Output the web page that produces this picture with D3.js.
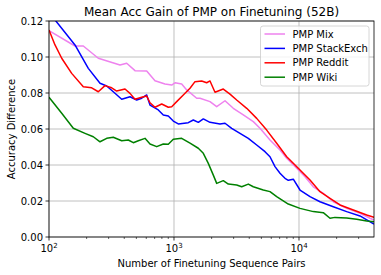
<!DOCTYPE html>
<html><head><meta charset="utf-8">
<script src="https://cdn.jsdelivr.net/npm/d3@7"></script>
<style>body{margin:0;background:#fff}svg{display:block;font-family:"DejaVu Sans",sans-serif}</style>
</head><body><svg id="c" width="381" height="275"></svg>
<script>
const title = "Mean Acc Gain of PMP on Finetuning (52B)";
const xLabel = "Number of Finetuning Sequence Pairs";
const yLabel = "Accuracy Difference";
const seriesNames = ["PMP Mix", "PMP StackExch", "PMP Reddit", "PMP Wiki"];
const seriesColors = ["#ee82ee", "#0000ff", "#ff0000", "#008000"];
const yTicks = [0, 0.02, 0.04, 0.06, 0.08, 0.10, 0.12];
const yTickLabels = ["0.00", "0.02", "0.04", "0.06", "0.08", "0.10", "0.12"];
const xTickExps = [2, 3, 4];

const mixX = [100,161.4,188.1,248,369.8,418.4,487.5,604.7,704.7,847.2,958.6,1019,1152,1264,1519,1614,1941,2196,2559,2981,3584,4309,4875,5861,7047,7972,9585,11169,13014,15646,18810,24075,30761,36983,39811];
const mixY = [0.1146,0.1061,0.1061,0.0993,0.0956,0.0965,0.0924,0.0922,0.0868,0.0850,0.0844,0.0857,0.0850,0.0817,0.0771,0.0771,0.0752,0.0724,0.0757,0.0715,0.0678,0.0641,0.0604,0.0539,0.0483,0.0437,0.0382,0.0335,0.0279,0.0243,0.0196,0.0159,0.0132,0.0104,0.0094];

const seX = [100,111.7,161.4,206.3,255.9,289.4,326.8,381.6,444.6,502.9,551.5,604.7,642.7,748.9,821.1,900.3,987.2,1082,1301,1427,1565,1716,1941,2333,2559,2894,3373,3930,4587,5346,5861,6427,7047,7727,8210,9004,10186,12246,14723,18810,24075,30761,39811];
const seY = [0.125,0.1206,0.1067,0.0937,0.0854,0.0839,0.0807,0.0765,0.0779,0.0761,0.0771,0.0789,0.0733,0.0706,0.0678,0.0672,0.0644,0.0628,0.0635,0.0650,0.0637,0.0656,0.0637,0.0628,0.0632,0.0604,0.0576,0.0548,0.0511,0.0474,0.0446,0.0391,0.0354,0.0326,0.0315,0.0321,0.0261,0.0224,0.0196,0.0168,0.0141,0.0117,0.0072];

const rdX = [100,111.7,126.4,151.9,188.1,219.6,248,280.5,317.3,347.9,405.5,444.6,487.5,551.5,604.7,642.7,704.7,797.3,900.3,958.6,1051,1187,1343,1472,1665,1826,1941,2128,2479,2805,3173,3816,4587,5515,6630,7972,8472,10186,12246,14723,17701,21281,27199,34799,39811];
const rdY = [0.1150,0.1067,0.0993,0.0909,0.0835,0.0829,0.0807,0.0841,0.0829,0.0811,0.0822,0.0798,0.0765,0.0776,0.0783,0.0746,0.0721,0.0739,0.0721,0.0724,0.0752,0.0789,0.0826,0.0863,0.0867,0.0857,0.0867,0.0804,0.0822,0.0794,0.0761,0.0715,0.0659,0.0594,0.0521,0.0446,0.0428,0.0372,0.0317,0.0252,0.0215,0.0178,0.0150,0.0122,0.0109];

const wkX = [100,126.4,156.5,194.1,226.2,255.9,289.4,326.8,381.6,430.9,472.5,518,586.1,642.7,727.1,821.1,900.3,987.2,1152,1343,1565,1716,1881,2063,2196,2479,2720,3173,3480,3930,4309,5180,5861,6630,7271,8210,10186,13014,15646,17701,19409,24075,28941,34799,39811];
const wkY = [0.0776,0.0687,0.0604,0.0576,0.0557,0.0529,0.0548,0.0554,0.0535,0.0539,0.0524,0.0535,0.0548,0.0517,0.0502,0.0517,0.0515,0.0543,0.0548,0.0521,0.0493,0.0465,0.0409,0.0344,0.0298,0.0313,0.0294,0.0289,0.0279,0.0294,0.0279,0.0261,0.0252,0.0224,0.0206,0.0183,0.0159,0.0141,0.0135,0.0104,0.0109,0.0106,0.0098,0.0089,0.0085];

const seriesX = [mixX, seX, rdX, wkX];
const seriesY = [mixY, seY, rdY, wkY];

const L = 49, R = 374, T = 21, B = 237;
const svg = d3.select("#c");
const x = d3.scaleLog().domain([100, 39811]).range([L, R]);
const y = d3.scaleLinear().domain([0, 0.12]).range([B, T]);

// grid
const grid = svg.append("g").attr("stroke", "#b0b0b0").attr("stroke-width", 0.8);
xTickExps.forEach(e => grid.append("line").attr("x1", x(10 ** e)).attr("x2", x(10 ** e)).attr("y1", T).attr("y2", B));
yTicks.forEach(v => grid.append("line").attr("x1", L).attr("x2", R).attr("y1", y(v)).attr("y2", y(v)));

// clip
svg.append("clipPath").attr("id", "clip").append("rect").attr("x", L).attr("y", T).attr("width", R - L).attr("height", B - T);

const line = d3.line().x(d => x(d[0])).y(d => y(d[1]));
const lines = svg.append("g").attr("clip-path", "url(#clip)");
seriesNames.forEach((n, i) => {
  const pts = seriesX[i].map((v, j) => [v, seriesY[i][j]]);
  lines.append("path").attr("d", line(pts)).attr("fill", "none").attr("stroke", seriesColors[i]).attr("stroke-width", 1.5).attr("stroke-linejoin", "round");
});

// spines
svg.append("rect").attr("x", L).attr("y", T).attr("width", R - L).attr("height", B - T).attr("fill", "none").attr("stroke", "#000").attr("stroke-width", 0.8);

// y ticks
const ya = svg.append("g");
yTicks.forEach((v, i) => {
  ya.append("line").attr("x1", L - 3.5).attr("x2", L).attr("y1", y(v)).attr("y2", y(v)).attr("stroke", "#000").attr("stroke-width", 0.8);
  ya.append("text").attr("x", L - 6).attr("y", y(v)).attr("dy", "0.35em").attr("text-anchor", "end").attr("font-size", 10).text(yTickLabels[i]);
});

// x ticks (major + minor)
const xa = svg.append("g");
const minors = [];
for (let e = 2; e <= 4; e++) for (let m = 2; m <= 9; m++) { const v = m * 10 ** e; if (v <= 39811) minors.push(v); }
minors.forEach(v => xa.append("line").attr("x1", x(v)).attr("x2", x(v)).attr("y1", B).attr("y2", B + 2).attr("stroke", "#000").attr("stroke-width", 0.6));
xTickExps.forEach(e => {
  xa.append("line").attr("x1", x(10 ** e)).attr("x2", x(10 ** e)).attr("y1", B).attr("y2", B + 3.5).attr("stroke", "#000").attr("stroke-width", 0.8);
  const t = xa.append("text").attr("x", x(10 ** e)).attr("y", B + 15).attr("text-anchor", "middle").attr("font-size", 10);
  t.append("tspan").text("10");
  t.append("tspan").attr("font-size", 7).attr("dy", -4).text(String(e));
});

// labels
svg.append("text").attr("x", (L + R) / 2).attr("y", 16).attr("text-anchor", "middle").attr("font-size", 12).text(title);
svg.append("text").attr("x", (L + R) / 2).attr("y", 267).attr("text-anchor", "middle").attr("font-size", 10).text(xLabel);
svg.append("text").attr("transform", `translate(15,${(T + B) / 2}) rotate(-90)`).attr("text-anchor", "middle").attr("font-size", 10).text(yLabel);

// legend
const lg = svg.append("g");
lg.append("rect").attr("x", 260.5).attr("y", 26).attr("width", 108.5).attr("height", 60).attr("rx", 2.5).attr("fill", "#fff").attr("fill-opacity", 0.8).attr("stroke", "#cccccc").attr("stroke-width", 0.8);
seriesNames.forEach((n, i) => {
  const yy = 34 + i * 14.4;
  lg.append("line").attr("x1", 264.5).attr("x2", 285).attr("y1", yy).attr("y2", yy).attr("stroke", seriesColors[i]).attr("stroke-width", 1.5);
  lg.append("text").attr("x", 292.5).attr("y", yy).attr("dy", "0.35em").attr("font-size", 10).text(n);
});
</script></body></html>
